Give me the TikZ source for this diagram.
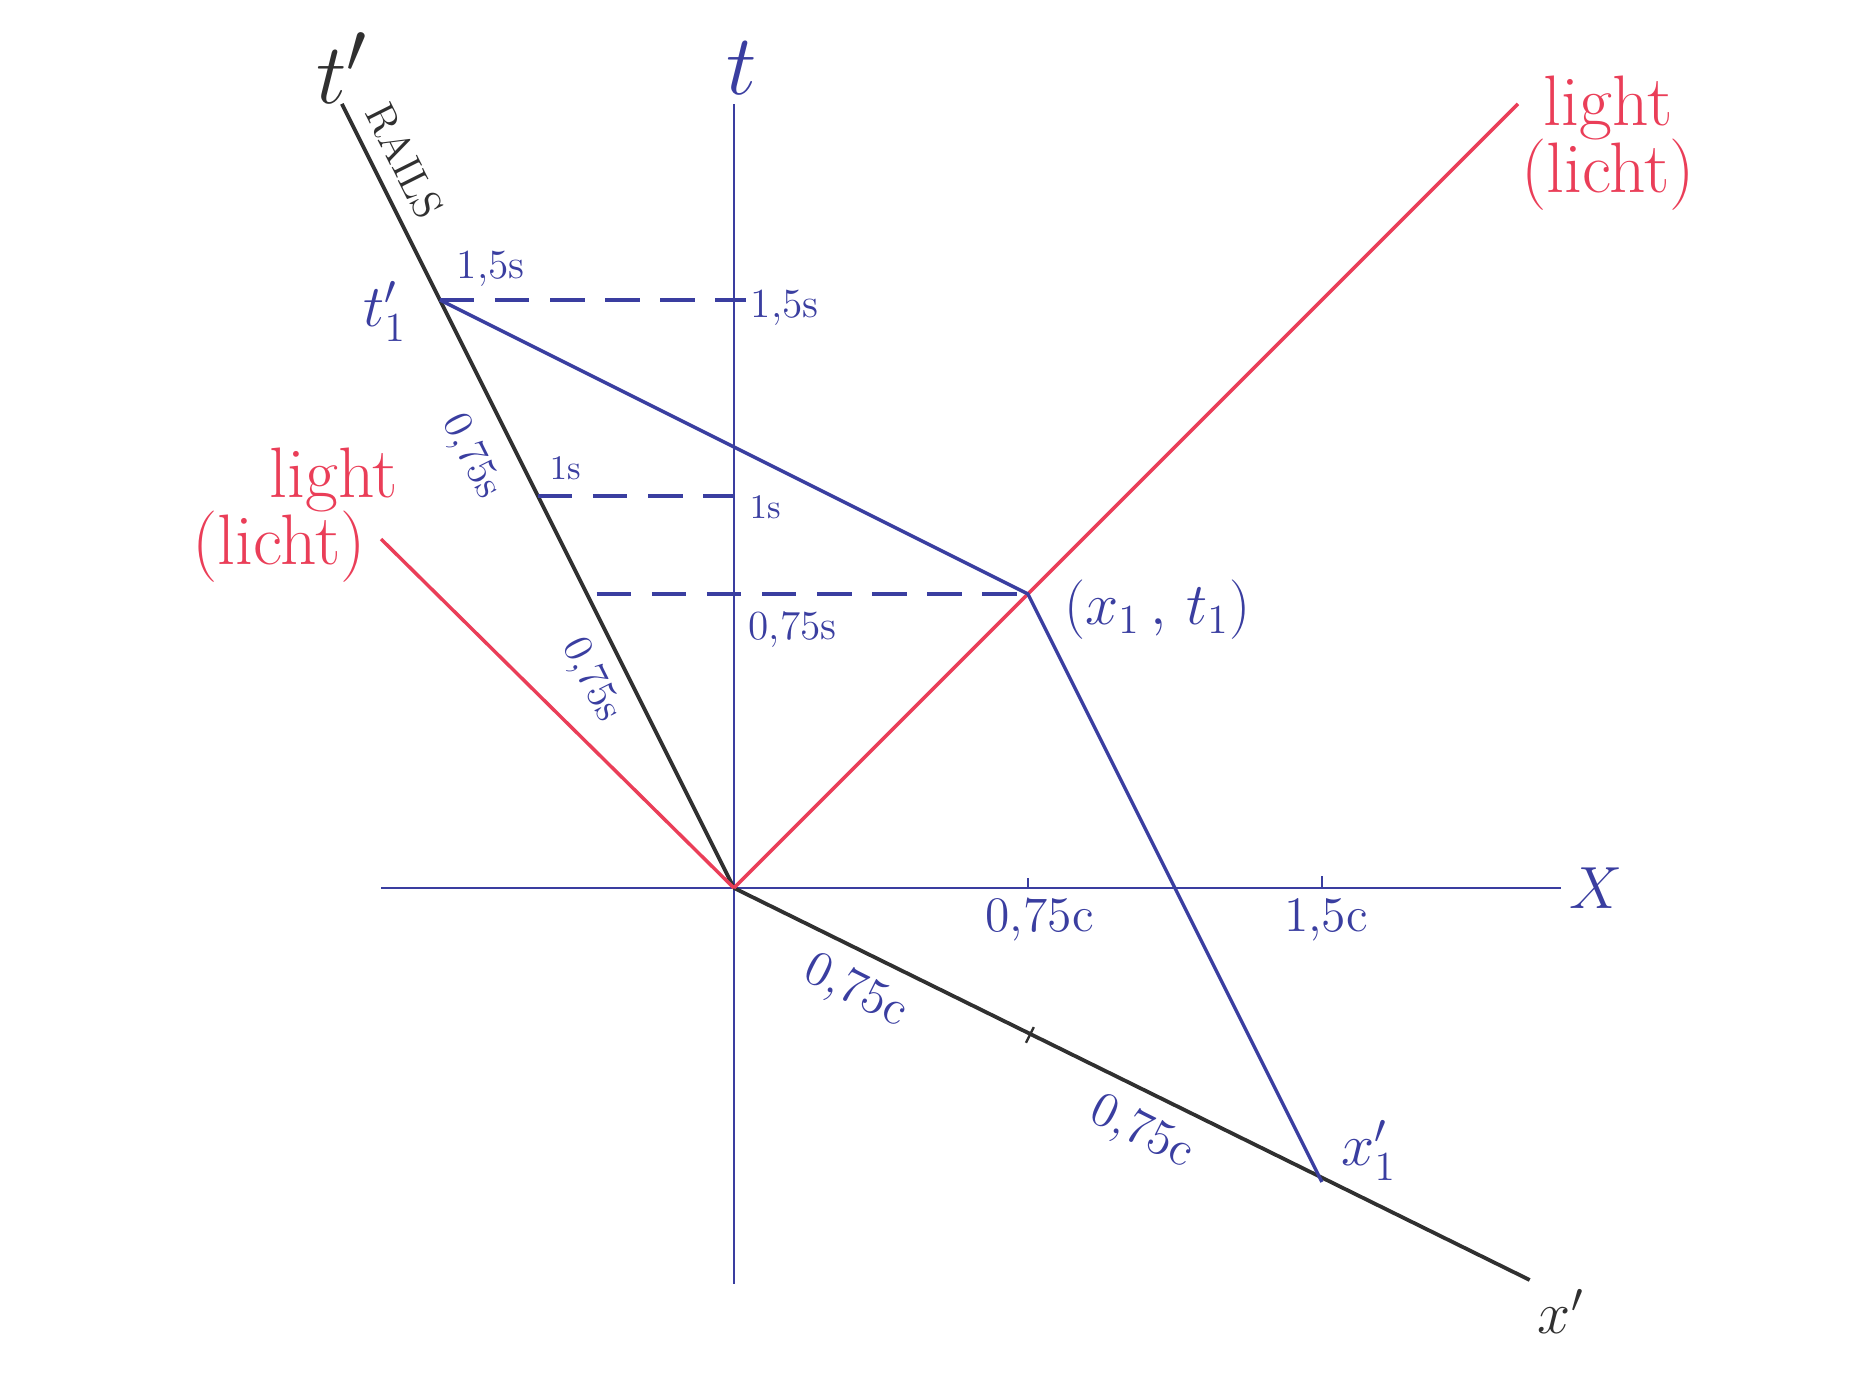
\documentclass[tikz,border=0pt]{standalone}
\usepackage{amsmath}
\usepackage{tikz}
\usetikzlibrary{calc}
\definecolor{pen}{RGB}{58,62,160}
\definecolor{redpen}{RGB}{234,62,88}
\definecolor{pencil}{RGB}{48,48,48}

\begin{document}
\begin{tikzpicture}[x=4cm,y=4cm,line width=0.8pt,
        axis/.style={draw=pen},
        rail/.style={draw=pencil,line width=1.1pt},
        ray/.style={draw=redpen,line width=1pt},
        guide/.style={draw=pen,line width=1pt,dash pattern=on 10pt off 6pt},
        worldline/.style={draw=pen,line width=1pt},
        tickmark/.style={draw=pen,line width=0.7pt},
        lbl/.style={text=pen,font=\large,inner sep=1pt},
        biglbl/.style={text=pen,font=\LARGE,inner sep=1pt},
        redlbl/.style={text=redpen,font=\huge,inner sep=1pt}]
      \useasboundingbox (-1.872,-1.240) rectangle (2.847,2.265);
      % axes of the rest frame
      \coordinate (O) at (0,0);
      \coordinate (tbot) at (0,-1.01);
      \coordinate (ttop) at (0,2.0);
      \coordinate (xleft) at (-0.9,0);
      \coordinate (xright) at (2.11,0);
      % axes of the moving frame
      \coordinate (tpend) at (-1.0,2.0);
      \coordinate (xpend) at (2.03,-1.0);
      % light rays
      \coordinate (rayR) at (2.0,2.0);
      \coordinate (rayL) at (-0.9,0.89);
      % events
      \coordinate (t1p) at (-0.75,1.5);
      \coordinate (P) at (0.75,0.75);
      \coordinate (x1p) at (1.5,-0.75);
      \coordinate (t15) at (0,1.5);
      \coordinate (t10) at (0,1);
      \coordinate (tp10) at (-0.5,1);
      \coordinate (g075) at (-0.35,0.75);

      \draw[axis] (tbot) -- (ttop);
      \draw[axis] (xleft) -- (xright);
      \draw[rail] (O) -- (tpend);
      \draw[rail] (O) -- (xpend);
      \draw[ray] (O) -- (rayR);
      \draw[ray] (O) -- (rayL);
      \draw[worldline] (t1p) -- (P) -- (x1p);
      \draw[guide] (t1p) -- ($(t15)+(0.03,0)$);
      \draw[guide] (tp10) -- (t10);
      \draw[guide] (g075) -- (P);
      \draw[tickmark] (0.75,0) -- (0.75,0.025);
      \draw[tickmark] (1.5,0) -- (1.5,0.03);
      \draw[draw=pencil,line width=0.7pt] (0.745,-0.395) -- (0.765,-0.355);

      % labels
      \node[text=pen,font=\Huge] (tlab) at (0.02,2.09) {$t$};
      \node[text=pencil,font=\Huge] (tplab) at (-1.0,2.09) {$t'$};
      \node[text=pen,font=\LARGE] (xlab) at (2.20,0) {$X$};
      \node[text=pencil,font=\LARGE] (xplab) at (2.11,-1.08) {$x'$};
      \node[text=pencil,font=\large,rotate=-63.43] (rails) at (-0.84,1.855) {RAILS};
      \node[biglbl] (t1plab) at (-0.89,1.47) {$t'_1$};
      \node[lbl] (s15a) at (-0.62,1.58) {1,5s};
      \node[lbl] (s15b) at (0.13,1.48) {1,5s};
      \node[lbl,font=\normalsize] (s1a) at (-0.43,1.07) {1s};
      \node[lbl,font=\normalsize] (s1b) at (0.08,0.97) {1s};
      \node[lbl] (s075) at (0.15,0.66) {0,75s};
      \node[lbl,rotate=-63.43] (s075a) at (-0.67,1.10) {0,75s};
      \node[lbl,rotate=-63.43] (s075b) at (-0.365,0.53) {0,75s};
      \node[biglbl] (Plab) at (1.08,0.71) {$(x_1\,,\,t_1)$};
      \node[lbl,font=\Large] (c075) at (0.78,-0.08) {0,75c};
      \node[lbl,font=\Large] (c15) at (1.51,-0.08) {1,5c};
      \node[lbl,font=\Large,rotate=-26.57] (c075a) at (0.31,-0.265) {0,75c};
      \node[lbl,font=\Large,rotate=-26.57] (c075b) at (1.04,-0.625) {0,75c};
      \node[biglbl] (x1plab) at (1.62,-0.67) {$x'_1$};
      \node[redlbl] (lightL) at (-1.02,1.04) {light};
      \node[redlbl] (lichtL) at (-1.16,0.87) {(licht)};
      \node[redlbl] (lightR) at (2.23,1.99) {light};
      \node[redlbl] (lichtR) at (2.23,1.82) {(licht)};
    \end{tikzpicture}
\end{document}
